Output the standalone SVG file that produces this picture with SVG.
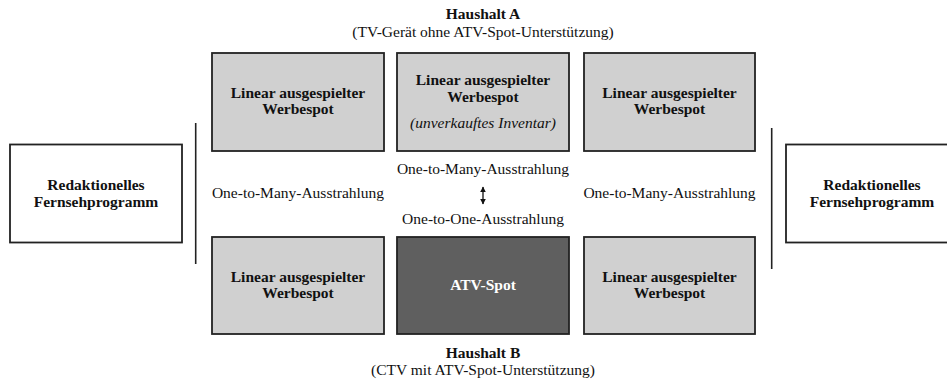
<svg xmlns="http://www.w3.org/2000/svg" width="947" height="383" viewBox="0 0 947 383">
<style>
text{font-family:"Liberation Serif","Times New Roman",serif;font-size:15.5px;fill:#111;text-anchor:middle}
.b{font-weight:bold}
.i{font-style:italic}
.w{fill:#fff}
.box{fill:#d0d0d0;stroke:#222;stroke-width:1.8}
.dark{fill:#5f5f5f;stroke:#222;stroke-width:1.8}
.side{fill:#fff;stroke:#222;stroke-width:1.8}
.sep{stroke:#222;stroke-width:1.6}
</style>
<defs>
<marker id="ah" viewBox="0 0 10 10" refX="9" refY="5" markerWidth="4.5" markerHeight="4.5" orient="auto-start-reverse"><path d="M0,0 L10,5 L0,10 z" fill="#111"/></marker>
</defs>
<g id="title-a"><text class="b" x="483" y="19">Haushalt A</text><text x="483" y="37">(TV-Gerät ohne ATV-Spot-Unterstützung)</text></g>
<g id="title-b"><text class="b" x="483" y="358">Haushalt B</text><text x="483" y="375">(CTV mit ATV-Spot-Unterstützung)</text></g>
<g id="left-program"><rect class="side" x="10" y="144.5" width="172" height="98"/><text class="b" x="96" y="190">Redaktionelles</text><text class="b" x="96" y="207">Fernsehprogramm</text></g>
<g id="right-program"><rect class="side" x="786" y="144.5" width="172" height="98"/><text class="b" x="872" y="190">Redaktionelles</text><text class="b" x="872" y="207">Fernsehprogramm</text></g>
<g id="a1"><rect class="box" x="212" y="53" width="172" height="98"/><text class="b" x="298" y="98">Linear ausgespielter</text><text class="b" x="298" y="114">Werbespot</text></g>
<g id="a2"><rect class="box" x="397" y="53" width="172" height="98"/><text class="b" x="483" y="85">Linear ausgespielter</text><text class="b" x="483" y="101.5">Werbespot</text><text class="i" x="483" y="128">(unverkauftes Inventar)</text></g>
<g id="a3"><rect class="box" x="584" y="53" width="171" height="98"/><text class="b" x="669.5" y="98">Linear ausgespielter</text><text class="b" x="669.5" y="114">Werbespot</text></g>
<g id="b1"><rect class="box" x="212" y="237" width="172" height="97"/><text class="b" x="298" y="282">Linear ausgespielter</text><text class="b" x="298" y="298">Werbespot</text></g>
<g id="b2"><rect class="dark" x="397" y="237" width="172" height="97"/><text class="b w" x="483" y="290">ATV-Spot</text></g>
<g id="b3"><rect class="box" x="584" y="237" width="171" height="97"/><text class="b" x="669.5" y="282">Linear ausgespielter</text><text class="b" x="669.5" y="298">Werbespot</text></g>
<g id="labels">
<text x="298" y="198">One-to-Many-Ausstrahlung</text>
<text x="669.5" y="198">One-to-Many-Ausstrahlung</text>
<text x="483" y="174">One-to-Many-Ausstrahlung</text>
<text x="483" y="224">One-to-One-Ausstrahlung</text>
</g>
<g id="connectors">
<line class="sep" x1="195.7" y1="123" x2="195.7" y2="264"/>
<line class="sep" x1="771.7" y1="128" x2="771.7" y2="269"/>
<line x1="483" y1="187" x2="483" y2="204" stroke="#111" stroke-width="1.3" marker-start="url(#ah)" marker-end="url(#ah)"/>
</g>
</svg>
